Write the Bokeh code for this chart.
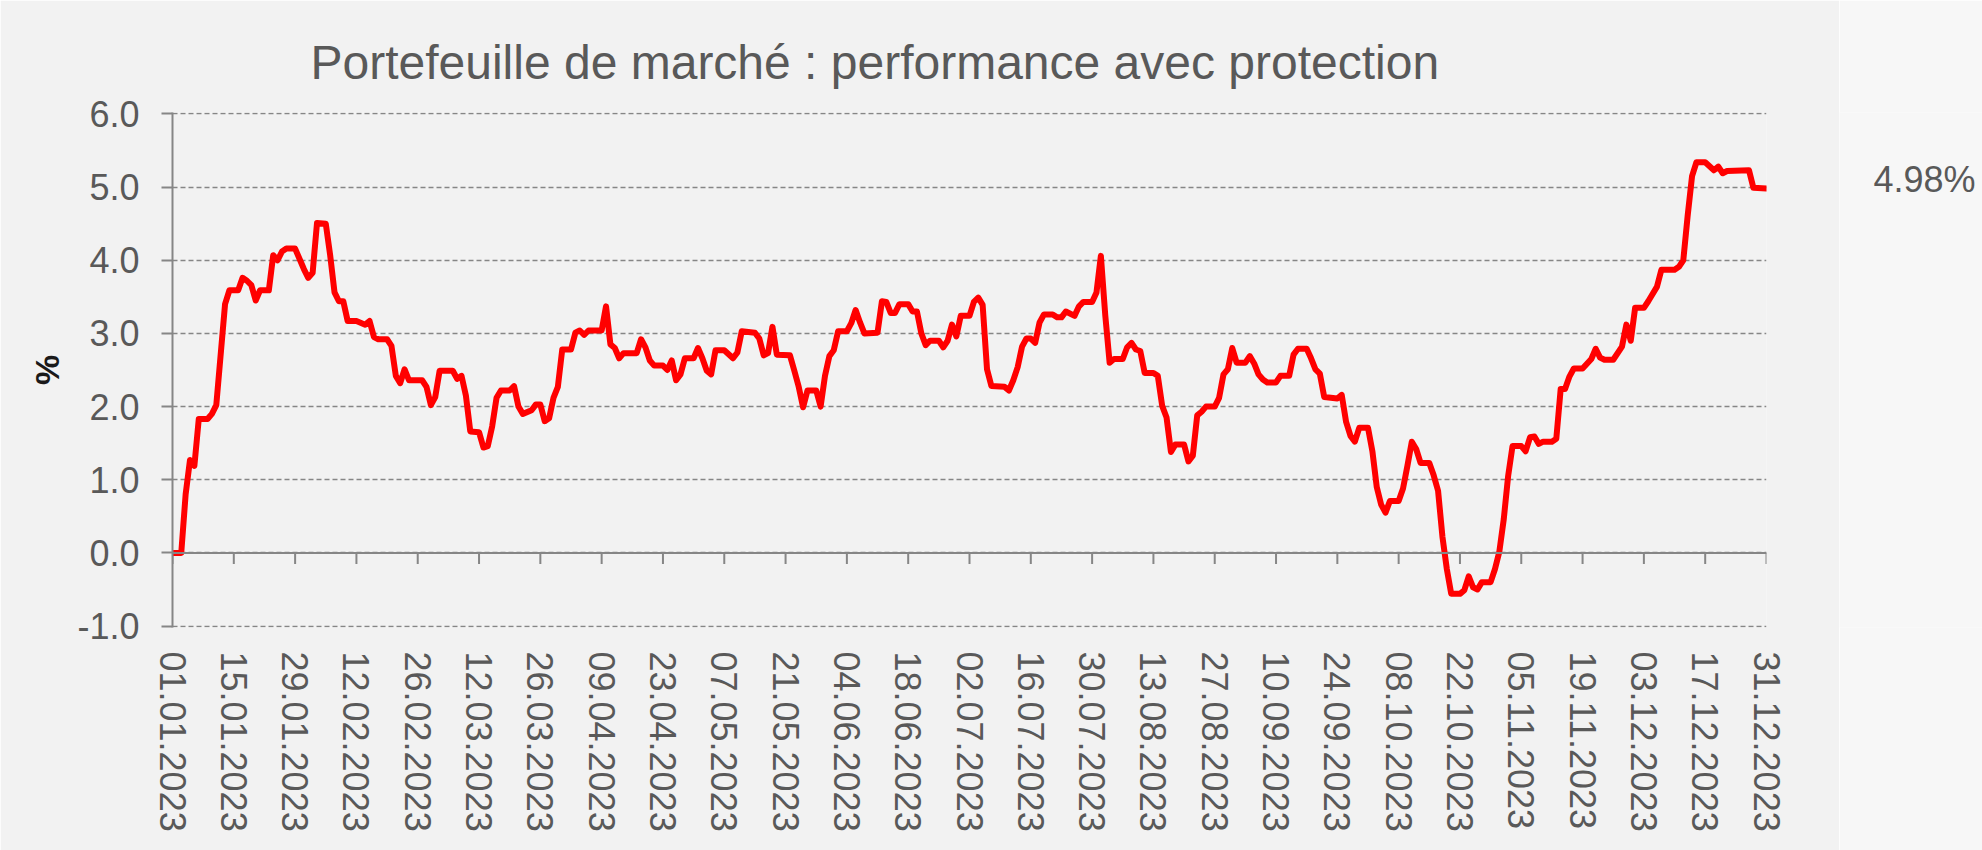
from datetime import datetime, timedelta

from bokeh.plotting import figure
from bokeh.layouts import row
from bokeh.models import Range1d, FixedTicker, NumeralTickFormatter, DatetimeTickFormatter, Span
from bokeh.core.properties import value
from bokeh.embed import file_html
from bokeh.resources import INLINE

# ---------------- data ----------------
title_text = "Portefeuille de marché : performance avec protection"
y_label = "%"

# day offset from 01.01.2023 and cumulative performance in %
obs_day = [0, 2, 3, 4, 5, 6, 8, 9, 10, 12, 13, 15, 16, 17, 18, 19, 20, 22, 23, 24,
           25, 26, 28, 30, 31, 32, 33, 35, 36, 37, 38, 39, 40, 42, 44, 45, 46, 47, 49, 50,
           51, 52, 53, 54, 57, 58, 59, 60, 61, 64, 65, 66, 67, 68, 70, 71, 72, 73, 74, 75,
           77, 78, 79, 80, 82, 83, 84, 85, 86, 87, 88, 89, 91, 92, 93, 94, 95, 98, 99, 100,
           101, 102, 103, 106, 107, 108, 109, 110, 112, 113, 114, 115, 116, 117, 119, 120, 121, 122, 123, 124,
           126, 128, 129, 130, 133, 134, 135, 136, 137, 138, 141, 142, 143, 144, 145, 147, 148, 149, 150, 151,
           152, 154, 155, 156, 157, 158, 161, 162, 163, 164, 165, 166, 168, 169, 170, 171, 172, 173, 175, 176,
           177, 178, 179, 180, 182, 183, 184, 185, 186, 187, 190, 191, 192, 193, 194, 195, 196, 197, 198, 199,
           201, 202, 203, 204, 206, 207, 208, 210, 211, 212, 213, 214, 215, 217, 218, 219, 220, 221, 222, 224,
           225, 226, 227, 228, 229, 231, 232, 233, 234, 235, 236, 238, 239, 240, 241, 242, 243, 245, 246, 247,
           248, 249, 250, 252, 253, 255, 256, 257, 259, 260, 261, 262, 263, 266, 267, 268, 269, 270, 271, 273,
           274, 275, 276, 277, 278, 280, 281, 282, 283, 284, 285, 287, 288, 289, 290, 291, 292, 294, 295, 296,
           297, 298, 299, 301, 302, 303, 304, 305, 306, 308, 309, 310, 311, 312, 313, 315, 316, 317, 318, 319,
           320, 322, 324, 325, 326, 327, 329, 331, 332, 333, 334, 336, 337, 339, 340, 343, 344, 345, 346, 347,
           348, 350, 352, 353, 354, 355, 360, 361, 364]
performance = [0.00, 0.00, 0.80, 1.27, 1.19, 1.83, 1.83, 1.90, 2.02, 3.40, 3.59, 3.59, 3.76, 3.72, 3.66, 3.45, 3.59, 3.59, 4.07, 4.00,
               4.12, 4.16, 4.16, 3.88, 3.76, 3.83, 4.51, 4.50, 4.07, 3.56, 3.44, 3.44, 3.17, 3.17, 3.12, 3.17, 2.95, 2.92, 2.92, 2.83,
               2.42, 2.32, 2.51, 2.36, 2.36, 2.27, 2.02, 2.13, 2.49, 2.49, 2.38, 2.42, 2.15, 1.66, 1.65, 1.44, 1.46, 1.73, 2.12, 2.22,
               2.22, 2.28, 2.00, 1.90, 1.95, 2.03, 2.03, 1.80, 1.84, 2.12, 2.27, 2.78, 2.78, 3.01, 3.04, 2.98, 3.04, 3.04, 3.37, 2.85,
               2.80, 2.66, 2.73, 2.73, 2.92, 2.81, 2.63, 2.56, 2.56, 2.50, 2.63, 2.36, 2.44, 2.66, 2.66, 2.80, 2.66, 2.49, 2.44, 2.77,
               2.77, 2.66, 2.74, 3.03, 3.01, 2.93, 2.70, 2.73, 3.09, 2.71, 2.70, 2.49, 2.27, 1.99, 2.22, 2.22, 2.00, 2.42, 2.69, 2.77,
               3.03, 3.03, 3.14, 3.32, 3.15, 3.00, 3.01, 3.44, 3.43, 3.28, 3.28, 3.40, 3.40, 3.30, 3.30, 3.00, 2.84, 2.90, 2.90, 2.81,
               2.90, 3.12, 2.96, 3.24, 3.24, 3.43, 3.49, 3.39, 2.51, 2.28, 2.27, 2.22, 2.36, 2.54, 2.82, 2.93, 2.93, 2.87, 3.15, 3.26,
               3.26, 3.22, 3.22, 3.30, 3.24, 3.37, 3.43, 3.43, 3.56, 4.06, 3.25, 2.60, 2.65, 2.65, 2.81, 2.87, 2.78, 2.76, 2.46, 2.46,
               2.42, 2.01, 1.85, 1.38, 1.48, 1.48, 1.25, 1.33, 1.88, 1.93, 2.00, 2.00, 2.12, 2.44, 2.51, 2.80, 2.60, 2.60, 2.69, 2.59,
               2.44, 2.37, 2.33, 2.33, 2.42, 2.42, 2.71, 2.79, 2.79, 2.66, 2.51, 2.45, 2.13, 2.11, 2.16, 1.79, 1.60, 1.52, 1.71, 1.71,
               1.39, 0.90, 0.66, 0.55, 0.71, 0.71, 0.88, 1.19, 1.52, 1.42, 1.23, 1.23, 1.06, 0.85, 0.22, -0.22, -0.56, -0.56, -0.51, -0.32,
               -0.47, -0.50, -0.40, -0.40, -0.22, 0.02, 0.46, 1.05, 1.46, 1.46, 1.39, 1.58, 1.59, 1.49, 1.52, 1.52, 1.56, 2.24, 2.24, 2.41,
               2.52, 2.52, 2.65, 2.79, 2.67, 2.64, 2.64, 2.82, 3.12, 2.90, 3.35, 3.35, 3.44, 3.64, 3.87, 3.87, 3.91, 4.00, 4.61, 5.15,
               5.34, 5.34, 5.23, 5.28, 5.19, 5.22, 5.23, 4.99, 4.98]

tick_labels = ["01.01.2023", "15.01.2023", "29.01.2023", "12.02.2023", "26.02.2023", "12.03.2023",
               "26.03.2023", "09.04.2023", "23.04.2023", "07.05.2023", "21.05.2023", "04.06.2023",
               "18.06.2023", "02.07.2023", "16.07.2023", "30.07.2023", "13.08.2023", "27.08.2023",
               "10.09.2023", "24.09.2023", "08.10.2023", "22.10.2023", "05.11.2023", "19.11.2023",
               "03.12.2023", "17.12.2023", "31.12.2023"]
y_ticks = [-1, 0, 1, 2, 3, 4, 5, 6]

# ---------------- derived ----------------
base = datetime(2023, 1, 1)
dates = [base + timedelta(days=d) for d in obs_day]
tick_dates = [datetime.strptime(s, "%d.%m.%Y") for s in tick_labels]
epoch = datetime(1970, 1, 1)
tick_ms = [(d - epoch).total_seconds() * 1000.0 for d in tick_dates]
end_label = f"{performance[-1]:.2f}%"

FONT = "Liberation Sans"
TXT = "#595959"
AXC = "#868686"
PANEL = "#f2f2f2"

H = 850
TOP, BOTTOM = 112, 223
pad = 0.02
y_lo, y_hi = min(y_ticks) - pad, max(y_ticks) + pad

p = figure(width=1839, height=H, x_axis_type="datetime",
           x_range=Range1d(tick_dates[0], tick_dates[-1]),
           y_range=Range1d(y_lo, y_hi),
           output_backend="svg", toolbar_location=None,
           min_border_left=172, min_border_right=73, min_border_top=TOP, min_border_bottom=BOTTOM,
           background_fill_color=PANEL, border_fill_color=PANEL, outline_line_color=None)

p.title.text = title_text
p.title.text_font = FONT
p.title.text_font_size = "48px"
p.title.text_font_style = "normal"
p.title.text_color = TXT
p.title.align = "left"
p.title.offset = 138
p.title.standoff = 48

# x axis: labels only at the bottom
xa = p.xaxis[0]
xa.ticker = FixedTicker(ticks=tick_ms)
fmt = "%d.%m.%Y"
xa.formatter = DatetimeTickFormatter(milliseconds=fmt, seconds=fmt, minsec=fmt, minutes=fmt,
                                     hourmin=fmt, hours=fmt, days=fmt, months=fmt, years=fmt)
xa.axis_line_color = None
xa.major_tick_line_color = None
xa.minor_tick_line_color = None
xa.major_tick_out = 0
xa.major_tick_in = 0
xa.major_label_standoff = 24
xa.major_label_orientation = "vertical"
xa.major_label_text_font = FONT
xa.major_label_text_font_size = "36px"
xa.major_label_text_color = TXT

# y axis
ya = p.yaxis[0]
ya.ticker = FixedTicker(ticks=y_ticks)
ya.formatter = NumeralTickFormatter(format="0.0")
ya.axis_line_color = AXC
ya.axis_line_width = 2
ya.major_tick_line_color = AXC
ya.major_tick_line_width = 2
ya.major_tick_out = 11
ya.major_tick_in = 0
ya.minor_tick_line_color = None
ya.major_label_standoff = 22
ya.major_label_text_font = FONT
ya.major_label_text_font_size = "36px"
ya.major_label_text_color = TXT
ya.axis_label = y_label
ya.axis_label_text_font = FONT
ya.axis_label_text_font_size = "34px"
ya.axis_label_text_font_style = "bold"
ya.axis_label_text_color = "#1a1a1a"
ya.axis_label_standoff = 8

p.xgrid.grid_line_color = None
p.ygrid.grid_line_color = AXC
p.ygrid.grid_line_width = 1.6
p.ygrid.grid_line_dash = "5 3"

# horizontal axis line crossing at zero, with tick marks downward
p.add_layout(Span(location=0, dimension="width", line_color=AXC, line_width=2))
frame_h = H - TOP - BOTTOM
tick_len = 11.0 / (frame_h / (y_hi - y_lo))
p.segment(x0=tick_dates, y0=[0] * len(tick_dates), x1=tick_dates, y1=[-tick_len] * len(tick_dates),
          line_color=AXC, line_width=2)

p.line(dates, performance, line_color="#ff0000", line_width=6,
       line_join="round", line_cap="round")

# side strip with end value label
p2 = figure(width=1982 - 1839, height=H, x_range=Range1d(0, 1), y_range=p.y_range,
            output_backend="svg", toolbar_location=None,
            min_border_left=0, min_border_right=0, min_border_top=TOP, min_border_bottom=BOTTOM,
            background_fill_color="#f7f7f7", border_fill_color="#f7f7f7", outline_line_color=None)
p2.axis.visible = False
p2.grid.grid_line_color = None
p2.text(x=[0], y=[performance[-1]], text=[end_label], x_offset=34, y_offset=-9,
        text_font=value(FONT), text_font_size="36px", text_color=TXT,
        text_baseline="middle", text_align="left")

layout = row(p, p2, spacing=0)
open("out.html", "w").write(file_html(layout, INLINE))
